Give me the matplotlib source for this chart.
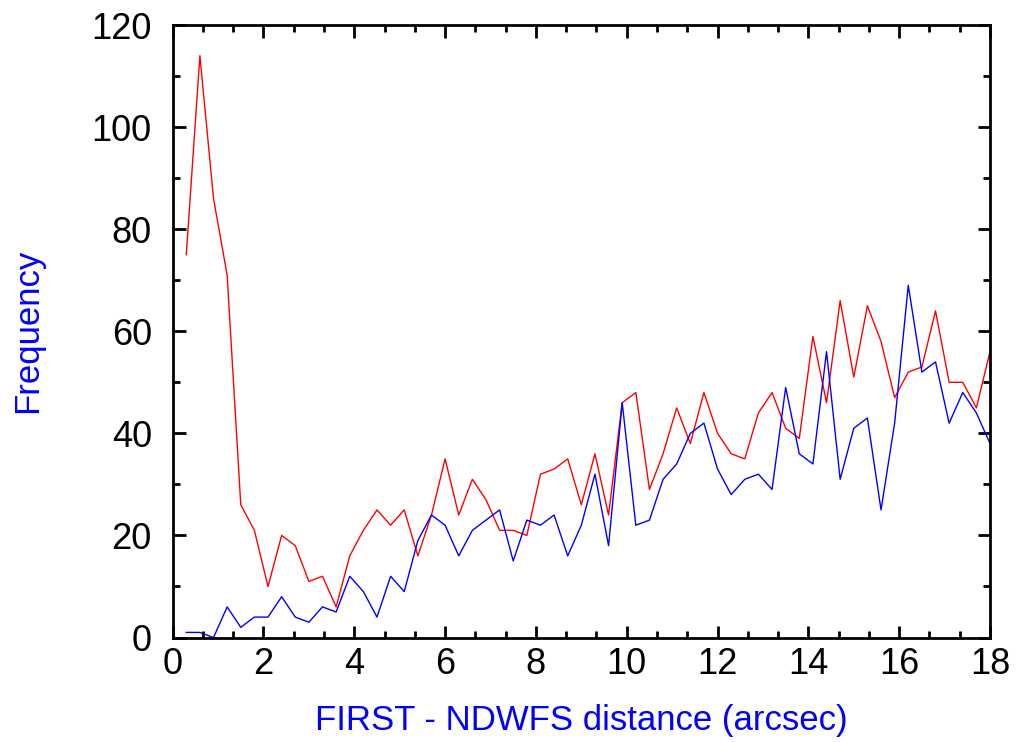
import numpy as np
import matplotlib
matplotlib.use("Agg")
import matplotlib.pyplot as plt
from matplotlib.ticker import MultipleLocator

plt.rcParams['font.family'] = ['Liberation Sans', 'DejaVu Sans']

# bin centres (arcsec), 0.3 arcsec bins
distance = np.round(np.arange(1, 61) * 0.3, 2)

red_counts = [75, 114, 86, 71, 26, 21, 10, 20, 18, 11,
              12, 6, 16, 21, 25, 22, 25, 16, 24, 35,
              24, 31, 27, 21, 21, 20, 32, 33, 35, 26,
              36, 24, 46, 48, 29, 36, 45, 38, 48, 40,
              36, 35, 44, 48, 41, 39, 59, 46, 66, 51,
              65, 58, 47, 52, 53, 64, 50, 50, 45, 56]

blue_counts = [1, 1, 0, 6, 2, 4, 4, 8, 4, 3,
               6, 5, 12, 9, 4, 12, 9, 19, 24, 22,
               16, 21, 23, 25, 15, 23, 22, 24, 16, 22,
               32, 18, 46, 22, 23, 31, 34, 40, 42, 33,
               28, 31, 32, 29, 49, 36, 34, 56, 31, 41,
               43, 25, 42, 69, 52, 54, 42, 48, 44, 38]

fig = plt.figure(figsize=(10.18, 7.42), dpi=100)
ax = fig.add_axes([0.1696, 0.1408, 0.8029, 0.8255])

ax.plot(distance, red_counts, color='#ff0000', lw=1.0)
ax.plot(distance, blue_counts, color='#0000ff', lw=1.0)

ax.set_xlim(0, 18)
ax.set_ylim(0, 120)
ax.xaxis.set_major_locator(MultipleLocator(2))
ax.xaxis.set_minor_locator(MultipleLocator(2 / 3))
ax.yaxis.set_major_locator(MultipleLocator(20))
ax.yaxis.set_minor_locator(MultipleLocator(10))

ax.tick_params(which='both', direction='in', top=True, right=True, width=2)
ax.tick_params(which='major', length=9, labelsize=26)
ax.tick_params(axis='x', which='major', pad=7)
ax.tick_params(axis='y', which='major', pad=15)
ax.tick_params(which='minor', length=5)
for s in ax.spines.values():
    s.set_linewidth(2)

ax.set_xlabel('FIRST - NDWFS distance (arcsec)', color='#0000ff', fontsize=25, va='center')
ax.set_ylabel('Frequency', color='#0000ff', fontsize=25, va='center', ha='center')
ax.xaxis.set_label_coords(0.5, -0.1347)
ax.yaxis.set_label_coords(-0.177, 0.5)

fig.savefig('out.png', dpi=100)
